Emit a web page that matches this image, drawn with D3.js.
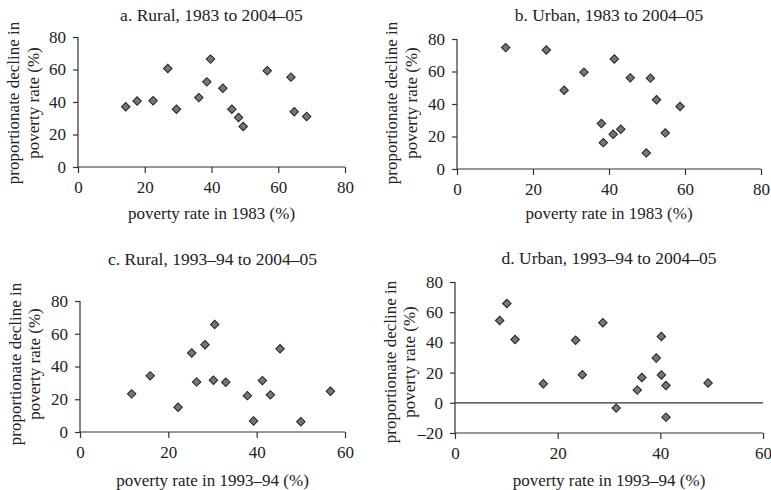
<!DOCTYPE html>
<html>
<head>
<meta charset="utf-8">
<script src="https://cdn.jsdelivr.net/npm/d3@7"></script>
<style>
  body { margin: 0; background: #fff; }
  svg text { font-family: "Liberation Serif", "DejaVu Serif", serif; fill: #222; }
</style>
</head>
<body>
<svg id="chart" width="771" height="490"></svg>
<script>
// ---- Data ----
const titles = ["a. Rural, 1983 to 2004\u201305", "b. Urban, 1983 to 2004\u201305",
                "c. Rural, 1993\u201394 to 2004\u201305", "d. Urban, 1993\u201394 to 2004\u201305"];
const xLabels = ["poverty rate in 1983 (%)", "poverty rate in 1983 (%)",
                 "poverty rate in 1993\u201394 (%)", "poverty rate in 1993\u201394 (%)"];
const yLabelLines = ["proportionate decline in", "poverty rate (%)"];

const xTicksA = [0, 20, 40, 60, 80];
const xTicksB = [0, 20, 40, 60, 80];
const xTicksC = [0, 20, 40, 60];
const xTicksD = [0, 20, 40, 60];
const yTicksA = [0, 20, 40, 60, 80];
const yTicksB = [0, 20, 40, 60, 80];
const yTicksC = [0, 20, 40, 60, 80];
const yTicksD = [-20, 0, 20, 40, 60, 80];

const ruralX1983 = [14.3, 17.7, 22.5, 26.9, 29.5, 36.2, 38.6, 39.7, 43.4, 46.1, 48.1, 49.5, 56.7, 63.8, 64.8, 68.5];
const ruralY1983 = [37.1, 40.6, 40.8, 60.6, 35.5, 42.7, 52.4, 66.4, 48.5, 35.5, 30.5, 24.9, 59.2, 55.3, 34.0, 31.1];

const urbanX1983 = [12.8, 23.5, 28.2, 33.4, 41.4, 45.6, 50.9, 52.5, 58.7, 38.0, 38.5, 41.1, 43.1, 54.8, 49.8];
const urbanY1983 = [74.7, 73.2, 48.5, 59.6, 67.7, 56.1, 55.9, 42.6, 38.5, 28.0, 16.2, 21.4, 24.5, 22.2, 9.9];

const ruralX1993 = [11.7, 15.9, 22.2, 25.3, 26.4, 28.3, 30.5, 30.2, 33.0, 37.9, 39.3, 41.3, 43.1, 45.3, 50.0, 56.7];
const ruralY1993 = [23.3, 34.3, 15.1, 48.2, 30.6, 53.3, 65.7, 31.6, 30.4, 22.2, 6.7, 31.4, 22.7, 50.8, 6.3, 24.9];

const urbanX1993 = [8.7, 10.1, 11.7, 17.2, 23.5, 24.8, 28.8, 31.4, 35.5, 36.4, 39.2, 40.2, 40.2, 41.1, 41.1, 49.3];
const urbanY1993 = [54.5, 65.8, 41.9, 12.6, 41.4, 18.6, 53.0, -3.5, 8.4, 16.8, 29.7, 43.9, 18.4, 11.5, -9.5, 13.1];

// ---- Layout ----
const panels = [
  { title: titles[0], xl: xLabels[0], xs: ruralX1983, ys: ruralY1983, xt: xTicksA, yt: yTicksA,
    box: { l: 78, r: 345, t: 37, b: 167 }, titleY: 21, xlabY: 219, yl1: 19, yl2: 39, ylc: 103 },
  { title: titles[1], xl: xLabels[1], xs: urbanX1983, ys: urbanY1983, xt: xTicksB, yt: yTicksB,
    box: { l: 457, r: 761, t: 39, b: 169 }, titleY: 21, xlabY: 219, yl1: 397, yl2: 417, ylc: 103 },
  { title: titles[2], xl: xLabels[2], xs: ruralX1993, ys: ruralY1993, xt: xTicksC, yt: yTicksC,
    box: { l: 80, r: 345, t: 301, b: 432 }, titleY: 265, xlabY: 486, yl1: 21, yl2: 40, ylc: 364 },
  { title: titles[3], xl: xLabels[3], xs: urbanX1993, ys: urbanY1993, xt: xTicksD, yt: yTicksD,
    box: { l: 455, r: 763, t: 282, b: 433 }, titleY: 264, xlabY: 486, yl1: 396, yl2: 415, ylc: 362 }
];

const svg = d3.select("#chart");
const axisColor = "#333";
const FS = "17px";

panels.forEach(p => {
  const b = p.box;
  const x = d3.scaleLinear().domain(d3.extent(p.xt)).range([b.l, b.r]);
  const y = d3.scaleLinear().domain(d3.extent(p.yt)).range([b.b, b.t]);
  const g = svg.append("g");

  // title
  g.append("text").attr("x", (b.l + b.r) / 2).attr("y", p.titleY)
    .attr("text-anchor", "middle").style("font-size", "17.5px").text(p.title);

  // y axis
  const ya = g.append("g").attr("transform", `translate(${b.l},0)`)
    .call(d3.axisLeft(y).tickValues(p.yt).tickSize(5).tickPadding(7)
      .tickFormat(d => d < 0 ? "\u2013" + Math.abs(d) : d));
  // x axis at bottom
  const xa = g.append("g").attr("transform", `translate(0,${b.b})`)
    .call(d3.axisBottom(x).tickValues(p.xt).tickSize(6).tickPadding(8));
  [ya, xa].forEach(a => {
    a.select(".domain").attr("stroke", axisColor).attr("stroke-width", 1.2);
    a.selectAll(".tick line").attr("stroke", axisColor).attr("stroke-width", 1.2);
    a.selectAll(".tick text").style("font-size", FS).attr("fill", "#222")
      .style("font-family", '"Liberation Serif", "DejaVu Serif", serif');
  });
  ya.select(".domain").attr("d", `M0,${b.t}V${b.b}`);
  xa.select(".domain").attr("d", `M${b.l},0H${b.r}`);

  // zero line if needed
  if (y.domain()[0] < 0) {
    g.append("line").attr("x1", b.l).attr("x2", b.r).attr("y1", y(0)).attr("y2", y(0))
      .attr("stroke", axisColor).attr("stroke-width", 1.2);
  }

  // x label
  g.append("text").attr("x", (b.l + b.r) / 2).attr("y", p.xlabY)
    .attr("text-anchor", "middle").style("font-size", FS).text(p.xl);

  // y label (rotated, two lines)
  [p.yl1, p.yl2].forEach((xx, i) => {
    g.append("text").attr("transform", `translate(${xx},${p.ylc}) rotate(-90)`)
      .attr("text-anchor", "middle").style("font-size", FS).text(yLabelLines[i]);
  });

  // points (diamonds)
  g.append("g").selectAll("path").data(p.xs.map((v, i) => [v, p.ys[i]]))
    .join("path")
    .attr("d", d3.symbol().type(d3.symbolSquare).size(36))
    .attr("transform", d => `translate(${x(d[0])},${y(d[1])}) rotate(45)`)
    .attr("fill", "#767676").attr("stroke", "#222").attr("stroke-width", 1);
});
</script>
</body>
</html>
